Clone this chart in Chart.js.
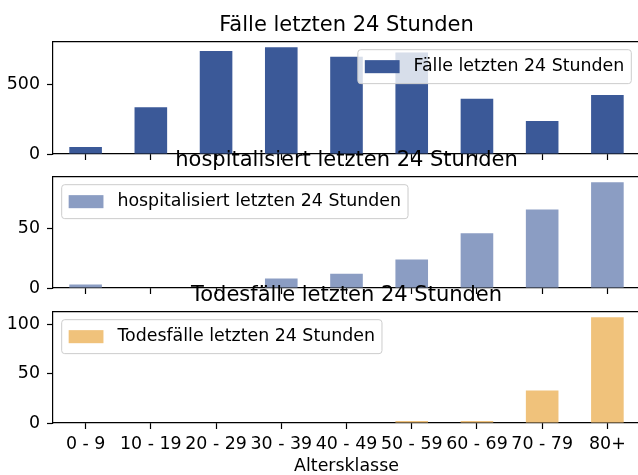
<!DOCTYPE html>
<html>
<head>
<meta charset="utf-8">
<script src="https://cdn.jsdelivr.net/npm/chart.js@4.4.1/dist/chart.umd.min.js"></script>
<style>
  html, body { margin: 0; padding: 0; overflow: hidden; background: #fff; width: 638px; height: 475px; }
  canvas { position: absolute; left: 0; }
</style>
</head>
<body>
<canvas id="chart1" width="640" height="174" style="top:0px"></canvas>
<canvas id="chart2" width="640" height="173" style="top:135px"></canvas>
<canvas id="chart3" width="640" height="205" style="top:270px"></canvas>
<script>
// data
const ageGroups = ["0 - 9", "10 - 19", "20 - 29", "30 - 39", "40 - 49", "50 - 59", "60 - 69", "70 - 79", "80+"];
const cases24h = [50, 334, 735, 762, 694, 725, 395, 235, 422];
const hospitalized24h = [3, 0, 0, 8, 12, 24, 46, 66, 89];
const deaths24h = [0, 0, 0, 0, 0, 2, 2, 33, 107];

const casesTicks = [0, 500];
const hospTicks = [0, 50];
const deathTicks = [0, 50, 100];

const FONT = "DejaVu Sans";
const SMALL = 17.4;
const BIG = 21;

// matplotlib style legend box drawn inside the plot area
const mplLegend = {
  id: "mplLegend",
  afterDatasetsDraw(chart, args, opts) {
    const ctx = chart.ctx;
    const area = chart.chartArea;
    const ds = chart.data.datasets[0];
    const fs = SMALL;
    ctx.save();
    ctx.font = fs + "px '" + FONT + "'";
    const tw = ctx.measureText(ds.label).width;
    const pad = 0.4 * fs, hl = 2 * fs, hh = 0.75 * fs, htp = 0.8 * fs, bap = 0.5 * fs;
    const w = pad * 2 + hl + htp + tw;
    const h = pad * 2 + fs * 1.15;
    const x = opts.loc === "upper right" ? area.right - bap - w : area.left + bap;
    const y = area.top + bap - 1;
    ctx.beginPath();
    ctx.roundRect(x, y, w, h, 3);
    ctx.fillStyle = "rgba(255,255,255,0.8)";
    ctx.fill();
    ctx.strokeStyle = "#cccccc";
    ctx.lineWidth = 1;
    ctx.stroke();
    ctx.fillStyle = ds.backgroundColor;
    ctx.fillRect(x + pad, y + h / 2 - hh / 2, hl, hh);
    ctx.fillStyle = "#000";
    ctx.textBaseline = "middle";
    ctx.fillText(ds.label, x + pad + hl + htp, y + h / 2);
    ctx.restore();
  }
};

function makeChart(id, label, values, color, tickVals, legendLoc, showX, xHeight) {
  const ymax = Math.max(...values) * 1.05;
  return new Chart(document.getElementById(id), {
    type: "bar",
    data: {
      labels: ageGroups,
      datasets: [{
        label: label,
        data: values,
        backgroundColor: color,
        borderWidth: 0,
        barPercentage: 0.5,
        categoryPercentage: 1.0,
        xAxisID: "x",
        yAxisID: "y"
      }]
    },
    options: {
      responsive: false,
      animation: false,
      devicePixelRatio: 1,
      layout: { padding: 0 },
      plugins: {
        legend: { display: false },
        tooltip: { enabled: false },
        title: {
          display: true,
          text: label,
          fullSize: false,
          color: "#000",
          font: { family: FONT, size: BIG, weight: "normal", lineHeight: 1.2 },
          padding: { top: 12.5, bottom: 4.3 }
        },
        mplLegend: { loc: legendLoc }
      },
      scales: {
        x: {
          type: "category",
          position: "bottom",
          offset: true,
          grid: { offset: false, drawOnChartArea: false, drawTicks: true, tickLength: 6, tickColor: "#000", tickWidth: 1.2 },
          border: { display: true, color: "#000", width: 1.2 },
          ticks: {
            display: showX, autoSkip: false, maxRotation: 0, minRotation: 0,
            padding: 5, color: "#000", font: { family: FONT, size: SMALL }
          },
          title: {
            display: showX, text: "Altersklasse", color: "#000",
            font: { family: FONT, size: SMALL, lineHeight: 1.0 },
            padding: { top: 0, bottom: 0 }
          },
          afterFit(s) { s.height = xHeight; s.paddingLeft = 0; s.paddingRight = 0; }
        },
        xTop: {
          type: "category",
          position: "top",
          offset: true,
          grid: { display: false, drawTicks: false },
          border: { display: true, color: "#000", width: 1.2 },
          ticks: { display: false },
          afterFit(s) { s.height = 0; s.paddingLeft = 0; s.paddingRight = 0; }
        },
        y: {
          min: 0,
          max: ymax,
          grid: { drawOnChartArea: false, drawTicks: true, tickLength: 6, tickColor: "#000", tickWidth: 1.2 },
          border: { display: true, color: "#000", width: 1.2 },
          ticks: { padding: 7, color: "#000", font: { family: FONT, size: SMALL } },
          afterBuildTicks(s) { s.ticks = tickVals.map(v => ({ value: v })); },
          afterFit(s) { s.width = 53; s.paddingTop = 0; s.paddingBottom = 0; }
        }
      }
    },
    plugins: [mplLegend]
  });
}

makeChart("chart1", "Fälle letzten 24 Stunden", cases24h, "#3b5998", casesTicks, "upper right", false, 20);
makeChart("chart2", "hospitalisiert letzten 24 Stunden", hospitalized24h, "#8b9dc3", hospTicks, "upper left", false, 20);
makeChart("chart3", "Todesfälle letzten 24 Stunden", deaths24h, "#f0c27b", deathTicks, "upper left", true, 52);
</script>
</body>
</html>
